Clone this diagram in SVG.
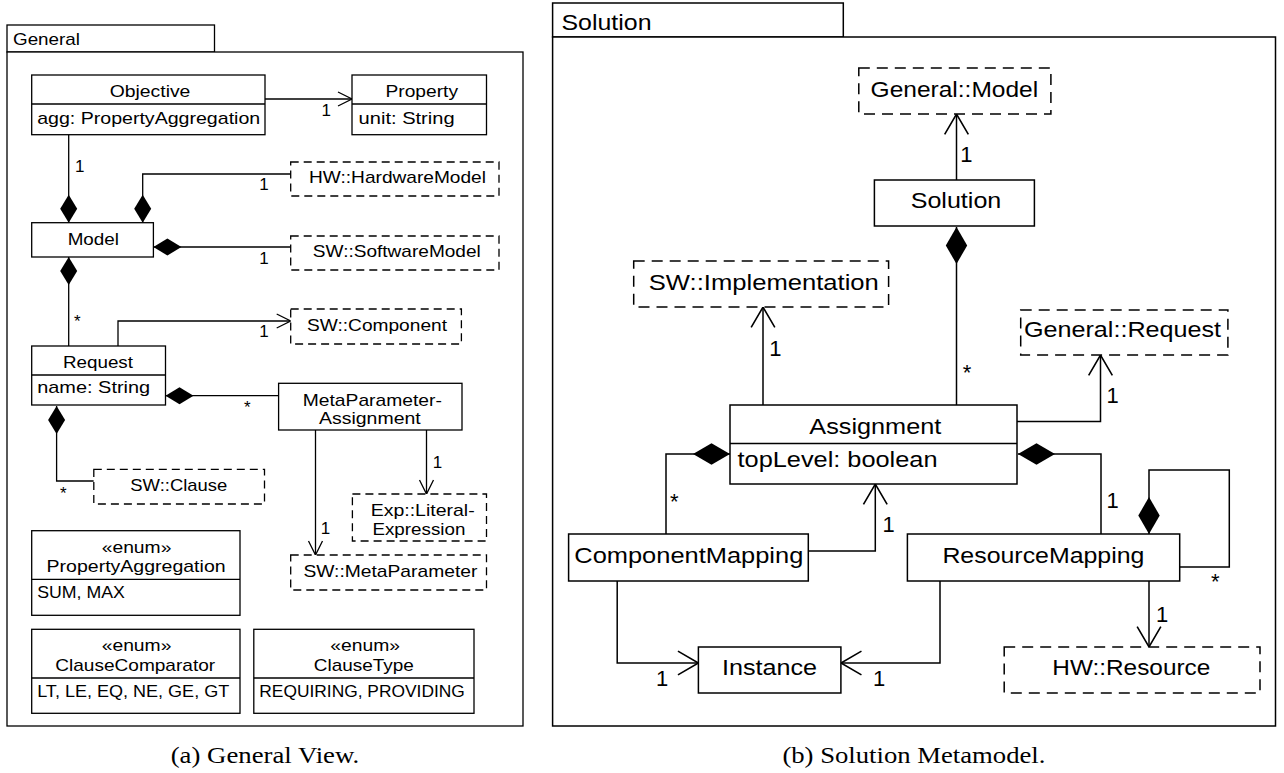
<svg xmlns="http://www.w3.org/2000/svg" width="1284" height="773" viewBox="0 0 1284 773">
<defs>
<style>
.bx{fill:#fff;stroke:#000;stroke-width:1.3}
.bxr{fill:#fff;stroke:#000;stroke-width:1.5}
.dl{fill:#fff;stroke:#000;stroke-width:1.3;stroke-dasharray:8 5}
.dr{fill:#fff;stroke:#000;stroke-width:1.5;stroke-dasharray:11 7}
.ln{fill:none;stroke:#000;stroke-width:1.3}
.lr{fill:none;stroke:#000;stroke-width:1.5}
.tl{font-family:"Liberation Sans",Arial,sans-serif;font-size:17px;fill:#000}
.tr{font-family:"Liberation Sans",Arial,sans-serif;font-size:22px;fill:#000}
.cap{font-family:"Liberation Serif","Times New Roman",serif;font-size:23px;fill:#000}
.m{text-anchor:middle}
</style>
<marker id="arL" markerUnits="userSpaceOnUse" markerWidth="20" markerHeight="20" viewBox="-16 -10 18 20" refX="0" refY="0" orient="auto">
<path d="M-14,-7 L0,0 L-14,7" fill="none" stroke="#000" stroke-width="1.3"/>
</marker>
<marker id="arR" markerUnits="userSpaceOnUse" markerWidth="26" markerHeight="28" viewBox="-21 -13 24 26" refX="0" refY="0" orient="auto">
<path d="M-19,-11 L0,0 L-19,11" fill="none" stroke="#000" stroke-width="1.5"/>
</marker>
<marker id="dmL" markerUnits="userSpaceOnUse" markerWidth="30" markerHeight="20" viewBox="-1 -10 30 20" refX="0" refY="0" orient="auto">
<path d="M0,0 L14,-8.5 L28,0 L14,8.5 Z" fill="#000"/>
</marker>
<marker id="dmR" markerUnits="userSpaceOnUse" markerWidth="40" markerHeight="24" viewBox="-1 -12 40 24" refX="0" refY="0" orient="auto">
<path d="M0,0 L18.5,-10.7 L37,0 L18.5,10.7 Z" fill="#000"/>
</marker>
</defs>
<rect width="1284" height="773" fill="#fff"/>

<!-- Package General -->
<g id="pkg-general">
<rect class="bx" x="7" y="25" width="207.5" height="27"/>
<rect class="bx" x="7" y="52" width="516" height="674" fill="none"/>
<text class="tl" x="13" y="45" textLength="67" lengthAdjust="spacingAndGlyphs">General</text>
</g>

<!-- Package Solution -->
<g id="pkg-solution">
<rect class="bxr" x="552.6" y="3" width="290.7" height="34"/>
<rect class="bxr" x="552.6" y="37" width="722.9" height="689" fill="none"/>
<text class="tr" x="561.5" y="30" textLength="90" lengthAdjust="spacingAndGlyphs">Solution</text>
</g>

<!-- Connectors -->
<g id="connectors">
<path class="ln" d="M265,99 H352" marker-end="url(#arL)"/>
<path class="ln" d="M68.7,222.7 V134.7" marker-start="url(#dmL)"/>
<path class="ln" d="M142.7,222.7 V174 H290.7" marker-start="url(#dmL)"/>
<path class="ln" d="M153.4,247 H290.7" marker-start="url(#dmL)"/>
<path class="ln" d="M68.7,257 V346" marker-start="url(#dmL)"/>
<path class="ln" d="M118,346 V321 H290.7" marker-end="url(#arL)"/>
<path class="ln" d="M165.5,395.7 H278.6" marker-start="url(#dmL)"/>
<path class="ln" d="M56.6,406 V481 H93.8" marker-start="url(#dmL)"/>
<path class="ln" d="M315.5,430 V555" marker-end="url(#arL)"/>
<path class="ln" d="M426.5,430 V494" marker-end="url(#arL)"/>

<path class="lr" d="M956.5,180 V114" marker-end="url(#arR)"/>
<path class="lr" d="M956.5,227 V405" marker-start="url(#dmR)"/>
<path class="lr" d="M763,405 V307" marker-end="url(#arR)"/>
<path class="lr" d="M1017,421.5 H1100.5 V355" marker-end="url(#arR)"/>
<path class="lr" d="M730,454 H666 V534" marker-start="url(#dmR)"/>
<path class="lr" d="M1018,454 H1101 V534" marker-start="url(#dmR)"/>
<path class="lr" d="M808.3,551 H875.3 V484" marker-end="url(#arR)"/>
<path class="lr" d="M1149,534 V470 H1229.3 V567 H1179.7" marker-start="url(#dmR)"/>
<path class="lr" d="M1149,581 V647" marker-end="url(#arR)"/>
<path class="lr" d="M617.2,581 V663 H698.4" marker-end="url(#arR)"/>
<path class="lr" d="M940,581 V663 H841" marker-end="url(#arR)"/>

<text class="tl" x="321.4" y="116">1</text>
<text class="tl" x="75" y="172">1</text>
<text class="tl" x="259.3" y="190">1</text>
<text class="tl" x="259.3" y="264">1</text>
<text class="tl" x="74" y="327">*</text>
<text class="tl" x="259.3" y="337">1</text>
<text class="tl" x="244" y="412.5">*</text>
<text class="tl" x="60" y="498.5">*</text>
<text class="tl" x="432.8" y="468">1</text>
<text class="tl" x="320.7" y="534.3">1</text>

<text class="tr" x="960.3" y="162">1</text>
<text class="tr" x="962.7" y="380">*</text>
<text class="tr" x="769.2" y="356">1</text>
<text class="tr" x="1106.6" y="403.3">1</text>
<text class="tr" x="670" y="508.5">*</text>
<text class="tr" x="1106.6" y="508">1</text>
<text class="tr" x="882.4" y="531.7">1</text>
<text class="tr" x="1211" y="589">*</text>
<text class="tr" x="1156" y="621.7">1</text>
<text class="tr" x="655.9" y="686">1</text>
<text class="tr" x="873" y="686">1</text>
</g>

<!-- Left nodes -->
<g id="objective">
<rect class="bx" x="31.7" y="75" width="233.3" height="59.7"/>
<line class="ln" x1="31.7" y1="104" x2="265" y2="104"/>
<text class="tl" x="109.7" y="96.7" textLength="80.7" lengthAdjust="spacingAndGlyphs">Objective</text>
<text class="tl" x="37.2" y="124" textLength="223" lengthAdjust="spacingAndGlyphs">agg: PropertyAggregation</text>
</g>
<g id="property">
<rect class="bx" x="352" y="75" width="134.5" height="59.7"/>
<line class="ln" x1="352" y1="104" x2="486.5" y2="104"/>
<text class="tl" x="385.5" y="96.7" textLength="72.5" lengthAdjust="spacingAndGlyphs">Property</text>
<text class="tl" x="358.6" y="124" textLength="96" lengthAdjust="spacingAndGlyphs">unit: String</text>
</g>
<g id="hw-hardwaremodel">
<rect class="dl" x="290.7" y="162" width="208.3" height="34"/>
<text class="tl" x="309" y="183.3" textLength="177" lengthAdjust="spacingAndGlyphs">HW::HardwareModel</text>
</g>
<g id="model">
<rect class="bx" x="31.7" y="222.7" width="121.7" height="34.3"/>
<text class="tl" x="67.7" y="245" textLength="51.3" lengthAdjust="spacingAndGlyphs">Model</text>
</g>
<g id="sw-softwaremodel">
<rect class="dl" x="290.7" y="236" width="208.3" height="34"/>
<text class="tl" x="312.8" y="256.7" textLength="168" lengthAdjust="spacingAndGlyphs">SW::SoftwareModel</text>
</g>
<g id="sw-component">
<rect class="dl" x="290.7" y="309" width="170.7" height="35"/>
<text class="tl" x="307" y="330.7" textLength="140" lengthAdjust="spacingAndGlyphs">SW::Component</text>
</g>
<g id="request">
<rect class="bx" x="31.7" y="346" width="133.8" height="59"/>
<line class="ln" x1="31.7" y1="375" x2="165.5" y2="375"/>
<text class="tl" x="63" y="367.7" textLength="70" lengthAdjust="spacingAndGlyphs">Request</text>
<text class="tl" x="37.2" y="393.3" textLength="113" lengthAdjust="spacingAndGlyphs">name: String</text>
</g>
<g id="metaparameter-assignment">
<rect class="bx" x="278.6" y="383.3" width="183.4" height="46.7"/>
<text class="tl" x="302.8" y="405.7" textLength="139" lengthAdjust="spacingAndGlyphs">MetaParameter-</text>
<text class="tl" x="319" y="424.3" textLength="101.7" lengthAdjust="spacingAndGlyphs">Assignment</text>
</g>
<g id="sw-clause">
<rect class="dl" x="93.8" y="469.3" width="170.7" height="34.7"/>
<text class="tl" x="130.3" y="490.7" textLength="97" lengthAdjust="spacingAndGlyphs">SW::Clause</text>
</g>
<g id="exp-literalexpression">
<rect class="dl" x="352.4" y="494" width="134.1" height="47"/>
<text class="tl" x="370.7" y="516" textLength="104" lengthAdjust="spacingAndGlyphs">Exp::Literal-</text>
<text class="tl" x="372.4" y="535" textLength="93" lengthAdjust="spacingAndGlyphs">Expression</text>
</g>
<g id="sw-metaparameter">
<rect class="dl" x="290.7" y="555" width="195.8" height="35"/>
<text class="tl" x="303.4" y="577.3" textLength="174" lengthAdjust="spacingAndGlyphs">SW::MetaParameter</text>
</g>
<g id="enum-propertyaggregation">
<rect class="bx" x="31.7" y="530.7" width="208.3" height="84.6"/>
<line class="ln" x1="31.7" y1="579.3" x2="240" y2="579.3"/>
<text class="tl" x="101.7" y="553.3" textLength="69.7" lengthAdjust="spacingAndGlyphs">«enum»</text>
<text class="tl" x="46.6" y="571.7" textLength="179" lengthAdjust="spacingAndGlyphs">PropertyAggregation</text>
<text class="tl" x="37.2" y="598.3" textLength="87.6" lengthAdjust="spacingAndGlyphs">SUM, MAX</text>
</g>
<g id="enum-clausecomparator">
<rect class="bx" x="31.7" y="629.3" width="208.3" height="84"/>
<line class="ln" x1="31.7" y1="678" x2="240" y2="678"/>
<text class="tl" x="101.7" y="651" textLength="69.7" lengthAdjust="spacingAndGlyphs">«enum»</text>
<text class="tl" x="55.2" y="670.7" textLength="160" lengthAdjust="spacingAndGlyphs">ClauseComparator</text>
<text class="tl" x="37.2" y="697.3" textLength="192" lengthAdjust="spacingAndGlyphs">LT, LE, EQ, NE, GE, GT</text>
</g>
<g id="enum-clausetype">
<rect class="bx" x="253.8" y="629.3" width="220.2" height="84"/>
<line class="ln" x1="253.8" y1="678" x2="474" y2="678"/>
<text class="tl" x="330.3" y="651" textLength="69.7" lengthAdjust="spacingAndGlyphs">«enum»</text>
<text class="tl" x="313.8" y="670.7" textLength="100" lengthAdjust="spacingAndGlyphs">ClauseType</text>
<text class="tl" x="259.3" y="697.3" textLength="205.5" lengthAdjust="spacingAndGlyphs">REQUIRING, PROVIDING</text>
</g>

<!-- Right nodes -->
<g id="general-model">
<rect class="dr" x="858.8" y="68" width="192.1" height="46"/>
<text class="tr" x="870.6" y="96.7" textLength="167.6" lengthAdjust="spacingAndGlyphs">General::Model</text>
</g>
<g id="solution">
<rect class="bxr" x="874.4" y="180" width="160" height="46"/>
<text class="tr" x="910.7" y="208" textLength="90.6" lengthAdjust="spacingAndGlyphs">Solution</text>
</g>
<g id="sw-implementation">
<rect class="dr" x="633.7" y="261" width="254.9" height="46"/>
<text class="tr" x="648.8" y="290" textLength="230" lengthAdjust="spacingAndGlyphs">SW::Implementation</text>
</g>
<g id="general-request">
<rect class="dr" x="1020.7" y="310" width="207.2" height="45"/>
<text class="tr" x="1024" y="337" textLength="197" lengthAdjust="spacingAndGlyphs">General::Request</text>
</g>
<g id="assignment">
<rect class="bxr" x="730" y="405" width="287" height="79"/>
<line class="lr" x1="730" y1="443.5" x2="1017" y2="443.5"/>
<text class="tr" x="809.3" y="434" textLength="132" lengthAdjust="spacingAndGlyphs">Assignment</text>
<text class="tr" x="737.5" y="467" textLength="200" lengthAdjust="spacingAndGlyphs">topLevel: boolean</text>
</g>
<g id="componentmapping">
<rect class="bxr" x="568.6" y="534" width="239.7" height="47"/>
<text class="tr" x="574.3" y="563" textLength="229" lengthAdjust="spacingAndGlyphs">ComponentMapping</text>
</g>
<g id="resourcemapping">
<rect class="bxr" x="907.4" y="534" width="272.3" height="47"/>
<text class="tr" x="942.4" y="563" textLength="202" lengthAdjust="spacingAndGlyphs">ResourceMapping</text>
</g>
<g id="instance">
<rect class="bxr" x="698.4" y="647" width="142.5" height="46"/>
<text class="tr" x="722" y="675" textLength="95" lengthAdjust="spacingAndGlyphs">Instance</text>
</g>
<g id="hw-resource">
<rect class="dr" x="1004.2" y="647" width="255.8" height="46"/>
<text class="tr" x="1052.3" y="675" textLength="158" lengthAdjust="spacingAndGlyphs">HW::Resource</text>
</g>

<!-- Captions -->
<text class="cap" x="170.7" y="763" textLength="188.6" lengthAdjust="spacingAndGlyphs">(a) General View.</text>
<text class="cap" x="782.4" y="763" textLength="263" lengthAdjust="spacingAndGlyphs">(b) Solution Metamodel.</text>
</svg>
